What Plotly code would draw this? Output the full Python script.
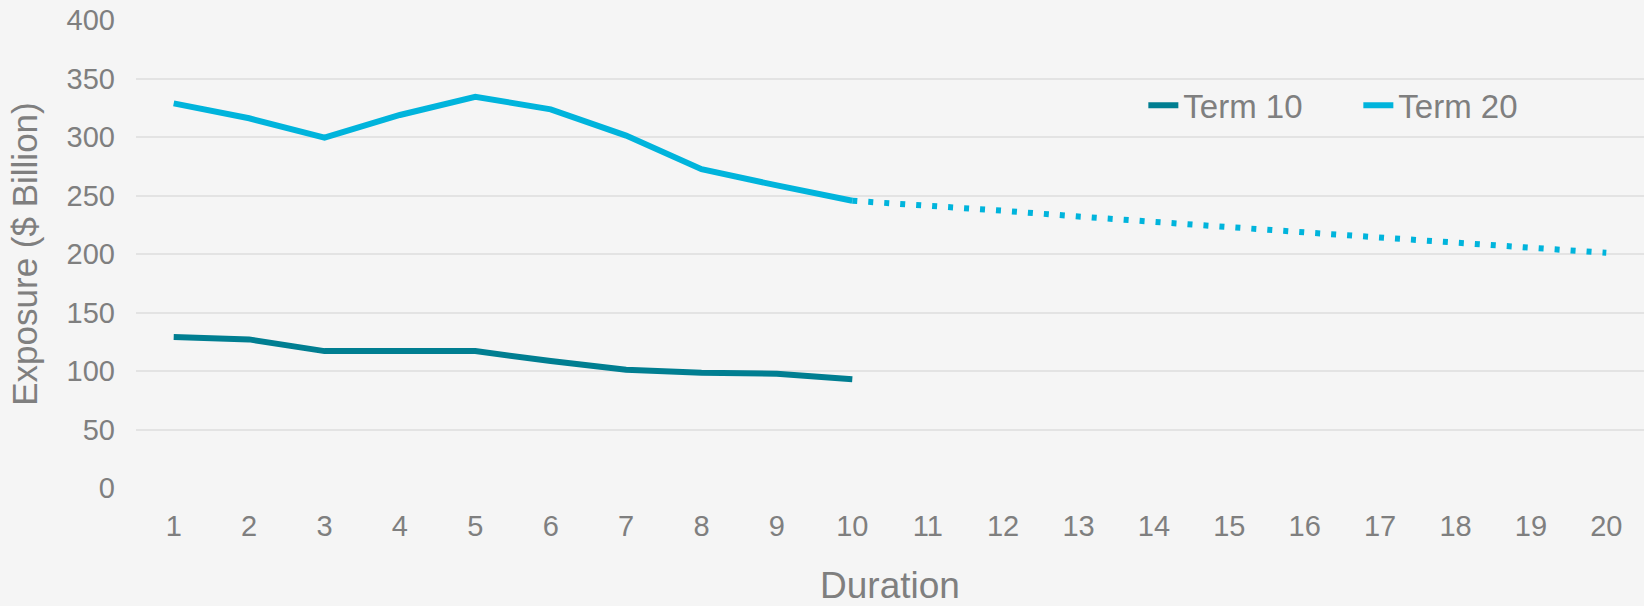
import plotly.graph_objects as go

durations = list(range(1, 21))
term10_x = list(range(1, 11))
term10 = [129, 127, 117, 117, 117, 108.5, 101, 98.6, 97.7, 93]
term20_x = list(range(1, 11))
term20 = [328.7, 316, 299.5, 318.8, 334.4, 323.6, 301.2, 272.5, 258.6, 245.5]
term20_proj_x = list(range(10, 21))
term20_proj = [245.5, 241.5, 237, 232, 227, 223, 218.5, 214, 210, 205.5, 201]

C10 = "#007e91"
C20 = "#00b4dc"
GRAY = "#7f7f7f"
FONT = "Liberation Sans, Arial, sans-serif"

fig = go.Figure()
fig.add_trace(go.Scatter(x=term10_x, y=term10, mode="lines", name="Term 10",
                         line=dict(color=C10, width=6)))
fig.add_trace(go.Scatter(x=term20_x, y=term20, mode="lines", name="Term 20",
                         line=dict(color=C20, width=6)))
fig.add_trace(go.Scatter(x=term20_proj_x, y=term20_proj, mode="lines", showlegend=False,
                         line=dict(color=C20, width=6, dash="5px,11px")))

fig.update_layout(
    width=1644, height=606,
    paper_bgcolor="#f5f5f5", plot_bgcolor="#f5f5f5",
    margin=dict(l=136, r=0, t=20, b=118),
    font=dict(family=FONT, color=GRAY, size=29),
    showlegend=True,
    legend=dict(orientation="h", x=0.668, xanchor="left", y=0.818, yanchor="middle",
                bgcolor="rgba(0,0,0,0)", font=dict(size=33, color=GRAY),
                entrywidth=170, entrywidthmode="pixels", tracegroupgap=0),
)
fig.update_xaxes(
    range=[0.5, 20.5], tickmode="array", tickvals=durations,
    ticktext=[str(d) for d in durations],
    showgrid=False, zeroline=False, showline=False,
    tickfont=dict(size=29, color=GRAY), ticklabelstandoff=18,
    title=dict(text="Duration", font=dict(size=37, color=GRAY), standoff=38),
)
fig.update_yaxes(
    range=[0, 400], tickvals=[0, 50, 100, 150, 200, 250, 300, 350, 400],
    showgrid=True, gridcolor="#e3e3e3", gridwidth=1.5, zeroline=False, showline=False,
    tickfont=dict(size=29, color=GRAY), ticklabelstandoff=20,
    title=dict(text="Exposure ($ Billion)", font=dict(size=35, color=GRAY), standoff=18),
)

fig.write_html("out.html", config={"displayModeBar": False},
               post_script="document.body.style.margin='0';document.body.style.background='#f5f5f5';")
